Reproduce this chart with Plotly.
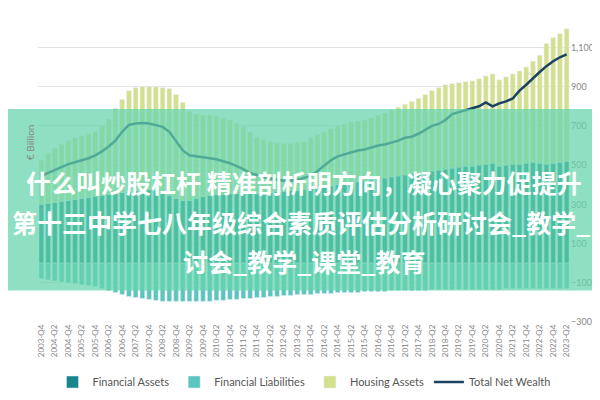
import plotly.graph_objects as go

FONT = 'Lato, sans-serif'
CJK = 'Noto Sans CJK SC'

QUARTERS = [f'{y}-Q{q}' for y in range(2003, 2024) for q in range(1, 5)]
QUARTERS = QUARTERS[QUARTERS.index('2003-Q4'):QUARTERS.index('2023-Q2') + 1]

FIN_ASSETS = [300, 305, 310, 315, 320, 325, 330, 335, 340, 345, 350, 355, 360,
              365, 370, 375, 375, 370, 360, 345, 330,
              320, 320, 330, 340, 345, 350, 350, 355, 355, 355,
              355, 355, 360, 360, 365, 365, 370, 370, 375, 380,
              385, 390, 395, 400, 405, 410, 415, 420, 425, 430,
              435, 440, 445, 450, 455, 460, 465, 470, 475, 480,
              485, 490, 495, 495, 500, 505, 510, 495, 500, 505,
              505, 510, 515, 510, 505, 510, 515, 520]
HOUSING = [225, 255, 275, 290, 305, 315, 320, 325, 330, 355, 385, 435, 475,
           515, 525, 525, 525, 530, 535, 545, 530,
           500, 455, 430, 415, 410, 400, 390, 375, 360, 340,
           315, 285, 270, 260, 250, 245, 240, 245, 245, 260,
           270, 280, 290, 300, 305, 310, 310, 310, 315, 325,
           330, 340, 350, 360, 370, 380, 395, 410, 420, 430,
           430, 430, 430, 435, 440, 450, 455, 440, 450, 460,
           475, 490, 515, 550, 615, 640, 655, 675]
FIN_LIAB = [-80, -85, -90, -95, -100, -105, -110, -115, -120, -130, -140, -150, -160,
            -170, -175, -180, -185, -190, -195, -195, -195,
            -195, -195, -195, -195, -195, -190, -190, -185, -185, -180,
            -180, -175, -175, -170, -170, -165, -165, -160, -160, -160,
            -155, -155, -155, -150, -150, -150, -150, -145, -145, -145,
            -145, -140, -140, -140, -140, -140, -140, -135, -135, -135,
            -135, -135, -135, -135, -135, -135, -135, -135, -130, -130,
            -130, -130, -130, -130, -130, -130, -130, -130]
NET_WEALTH = [445, 460, 475, 490, 505, 515, 525, 535, 550, 570, 595, 625, 670,
              705, 712, 715, 712, 705, 695, 670, 620,
              575, 550, 545, 540, 535, 530, 520, 510, 495, 480,
              460, 450, 440, 430, 425, 420, 420, 425, 435, 445,
              470, 500, 525, 545, 555, 565, 575, 580, 590, 600,
              605, 615, 625, 640, 645, 660, 680, 700, 710, 730,
              760, 770, 780, 790, 800, 820, 800, 815, 825, 840,
              880, 910, 945, 975, 1005, 1030, 1050, 1065]
Y_TICKS = [-300, -100, 100, 300, 500, 700, 900, 1100]
TITLE_LINES = ['什么叫炒股杠杆 精准剖析明方向，凝心聚力促提升',
               '第十三中学七八年级综合素质评估分析研讨会_教学_',
               '讨会_教学_课堂_教育']

fig = go.Figure()
fig.add_trace(go.Bar(x=QUARTERS, y=FIN_ASSETS, name='Financial Assets', marker_color='#17858c'))
fig.add_trace(go.Bar(x=QUARTERS, y=FIN_LIAB, name='Financial Liabilities', marker_color='#5ec4bf'))
fig.add_trace(go.Bar(x=QUARTERS, y=HOUSING, name='Housing Assets', marker_color='#d5e08c'))
fig.add_trace(go.Scatter(x=QUARTERS, y=NET_WEALTH, name='Total Net Wealth', mode='lines',
                         line=dict(color='#1b4260', width=2.5)))

# translucent banner with the overlaid caption
fig.add_shape(type='rect', xref='paper', yref='paper', x0=-0.08, x1=1.1, y0=0.105, y1=0.71,
              fillcolor='rgba(100,212,172,0.72)', line_width=0, layer='above')
for i, (txt, xp, anchor) in enumerate(zip(TITLE_LINES, [0.5, -0.053, 0.5], ['center', 'left', 'center'])):
    fig.add_annotation(text=f'<b>{txt}</b>', xref='paper', yref='paper', x=xp, xanchor=anchor,
                       y=0.465 - i * 0.131, yanchor='middle', showarrow=False,
                       font=dict(family=CJK, size=25, color='white'))
fig.add_annotation(text='€ Billion', xref='paper', yref='paper', x=-0.03, y=0.6, textangle=-90,
                   showarrow=False, font=dict(family=FONT, size=10, color='#888'))

fig.update_layout(
    width=600, height=400, barmode='relative', bargap=0.3,
    margin=dict(l=30, r=38, t=14, b=78),
    paper_bgcolor='white', plot_bgcolor='white',
    font=dict(family=FONT, size=9, color='#888'),
    xaxis=dict(tickvals=QUARTERS[::2], tickangle=-90, tickfont=dict(size=8, color='#888'),
               showgrid=False, showline=False),
    yaxis=dict(side='right', range=[-300, 1230], tickvals=Y_TICKS, tickformat=',',
               gridcolor='#e3e3e3', zeroline=False, tickfont=dict(size=9, color='#888')),
    legend=dict(orientation='h', x=0.5, xanchor='center', y=-0.2, yanchor='middle',
                font=dict(size=11, color='#555'), traceorder='normal'),
)
fig.write_html('out.html')
